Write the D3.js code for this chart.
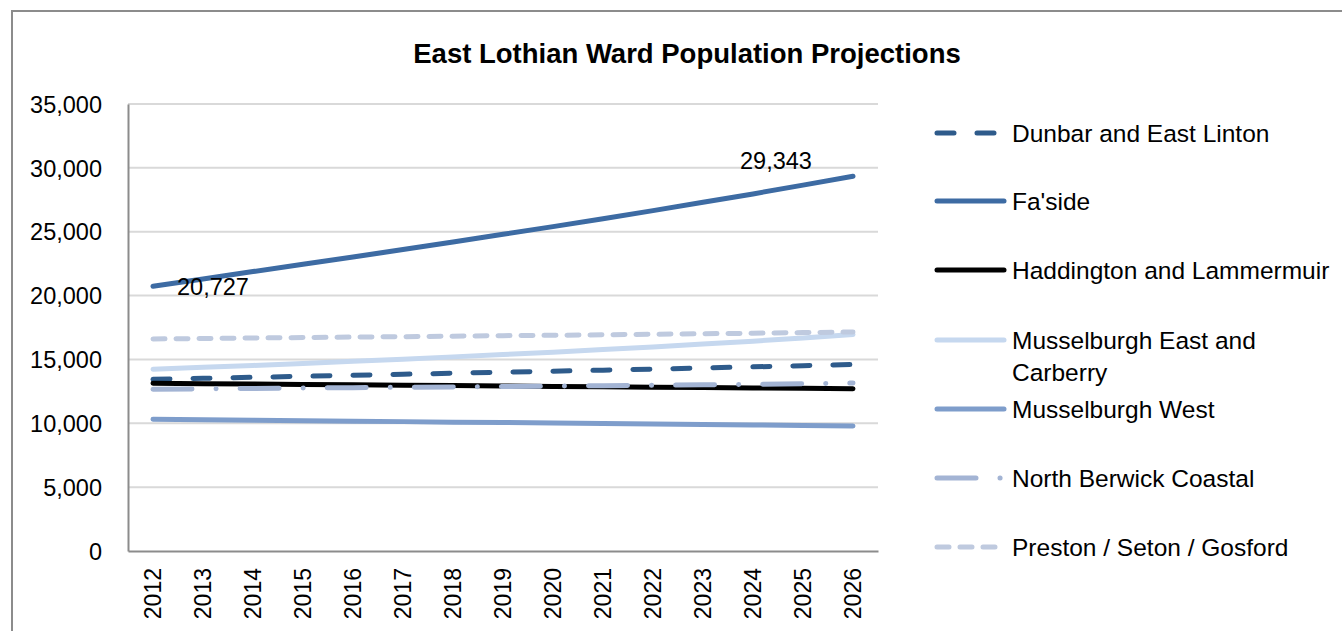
<!DOCTYPE html>
<html><head><meta charset="utf-8">
<script src="https://cdn.jsdelivr.net/npm/d3@7"></script>
<style>html,body{margin:0;padding:0;background:#fff;}svg{display:block;}text{font-family:"Liberation Sans",Arial,sans-serif;fill:#000;}</style>
</head><body>
<svg id="chart" width="1342" height="631"></svg>
<script>
const years = ["2012","2013","2014","2015","2016","2017","2018","2019","2020","2021","2022","2023","2024","2025","2026"];
const yTicks = [0,5000,10000,15000,20000,25000,30000,35000];
const dunbar      = [13440,13520,13600,13680,13760,13840,13920,14000,14080,14160,14240,14330,14420,14510,14600];
const faside      = [20727,21300,21880,22450,23020,23600,24200,24800,25400,26020,26650,27300,27960,28650,29343];
const haddington  = [13130,13100,13070,13040,13010,12980,12950,12920,12890,12860,12830,12800,12770,12740,12710];
const mussEast    = [14230,14380,14530,14690,14850,15020,15200,15380,15570,15770,15980,16200,16430,16680,16960];
const mussWest    = [10310,10270,10240,10200,10160,10130,10090,10060,10020,9990,9950,9910,9870,9830,9790];
const northBerwick= [12660,12700,12730,12760,12790,12820,12850,12880,12910,12940,12970,13010,13050,13100,13150];
const preston     = [16600,16640,16680,16710,16750,16780,16820,16860,16890,16930,16970,17010,17050,17100,17150];
const seriesNames = ["Dunbar and East Linton","Fa'side","Haddington and Lammermuir","Musselburgh East and Carberry","Musselburgh West","North Berwick Coastal","Preston / Seton / Gosford"];
const seriesValues = [dunbar, faside, haddington, mussEast, mussWest, northBerwick, preston];
const seriesColors = ["#2e5b8b","#3d6ba3","#000000","#c6d8ef","#7e9dcb","#a3b4d4","#bfcadf"];
const seriesDash = ["17,23",null,null,null,null,"39,24,0.1,24","12,11"];
const labels = [{series:1, index:0, text:"20,727"},{series:1, index:14, text:"29,343"}];

const svg = d3.select("#chart");
const m = {left:128, right:878, top:104, bottom:551};

// outer border
svg.append("rect").attr("x",12).attr("y",11).attr("width",1340).attr("height",640)
  .attr("fill","#fff").attr("stroke","#8c8c8c").attr("stroke-width",2);

const x = d3.scaleBand().domain(years).range([m.left,m.right]);
const y = d3.scaleLinear().domain([0,35000]).range([m.bottom,m.top]);

// gridlines
svg.append("g").selectAll("line").data(yTicks.filter(d=>d>0)).join("line")
  .attr("x1",m.left).attr("x2",m.right).attr("y1",d=>y(d)).attr("y2",d=>y(d))
  .attr("stroke","#d9d9d9").attr("stroke-width",2);

// y axis
const yAxis = svg.append("g").attr("transform",`translate(${m.left},0)`)
  .call(d3.axisLeft(y).tickValues(yTicks).tickSize(0).tickPadding(26).tickFormat(d3.format(",")));
yAxis.select(".domain").attr("stroke","#8c8c8c").attr("stroke-width",2);
yAxis.selectAll("text").style("font-size","23.5px").attr("dy","0.35em").style("font-family",'"Liberation Sans",Arial,sans-serif');

// x axis
const xAxis = svg.append("g").attr("transform",`translate(0,${m.bottom})`)
  .call(d3.axisBottom(x).tickSize(0).tickPadding(0));
xAxis.select(".domain").attr("stroke","#8c8c8c").attr("stroke-width",2);
xAxis.selectAll("text").style("font-size","23px").style("font-family",'"Liberation Sans",Arial,sans-serif')
  .attr("text-anchor","end").attr("transform","rotate(-90)").attr("x",-17).attr("y",0).attr("dy","0.36em");

// lines
const line = d3.line().x((d,i)=>x(years[i])+x.bandwidth()/2).y(d=>y(d));
const g = svg.append("g");
seriesValues.forEach((vals,k)=>{
  g.append("path").datum(vals).attr("d",line).attr("fill","none")
   .attr("stroke",seriesColors[k]).attr("stroke-width",5).attr("stroke-linecap","round")
   .attr("stroke-linejoin","round").attr("stroke-dasharray",seriesDash[k]);
});

// data labels
labels.forEach(l=>{
  const vx = x(years[l.index])+x.bandwidth()/2, vy = y(seriesValues[l.series][l.index]);
  svg.append("text").text(l.text).style("font-size","23.5px")
    .attr("x", l.index===0 ? vx+24 : vx-113).attr("y", l.index===0 ? vy+9 : vy-7);
});

// title
svg.append("text").text("East Lothian Ward Population Projections")
  .attr("x",687).attr("y",63).attr("text-anchor","middle")
  .style("font-size","27.5px").style("font-weight","bold");

// legend
const legY = [133,201,270,340,409,478,547];
const lg = svg.append("g");
seriesNames.forEach((name,k)=>{
  lg.append("line").attr("x1",937).attr("x2",1004).attr("y1",legY[k]).attr("y2",legY[k])
    .attr("stroke",seriesColors[k]).attr("stroke-width",5).attr("stroke-linecap","round")
    .attr("stroke-dasharray",seriesDash[k]);
  const t = lg.append("text").attr("x",1012).attr("y",legY[k]).attr("dy","0.36em").style("font-size","24.5px");
  if (name==="Musselburgh East and Carberry") {
    t.append("tspan").attr("x",1012).text("Musselburgh East and");
    t.append("tspan").attr("x",1012).attr("dy","1.3em").text("Carberry");
  } else t.text(name);
});
</script>
</body></html>
